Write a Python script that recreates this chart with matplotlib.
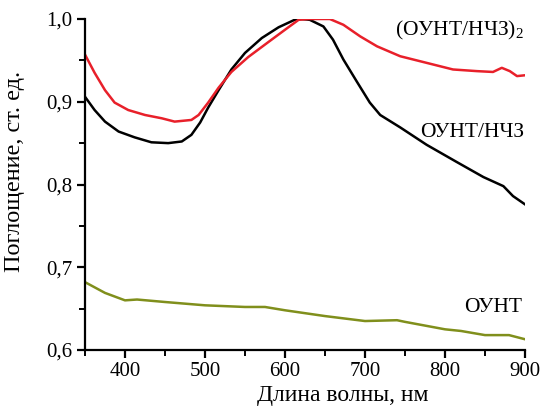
import matplotlib
matplotlib.use("Agg")
import matplotlib.pyplot as plt
from matplotlib.ticker import MultipleLocator, FuncFormatter

plt.rcParams['font.family'] = ['Liberation Serif', 'DejaVu Serif']
plt.rcParams['mathtext.fontset'] = 'custom'
plt.rcParams['mathtext.rm'] = 'Liberation Serif'
plt.rcParams['mathtext.it'] = 'Liberation Serif:italic'
plt.rcParams['mathtext.bf'] = 'Liberation Serif:bold'

# wavelengths (nm) and absorbance
wl_black = [350, 362, 375, 392, 412, 433, 454, 471, 483, 494, 504, 517, 533, 550, 571, 592, 612, 620,
            631, 648, 660, 673, 690, 706, 719, 744, 777, 815, 848, 873, 885, 900]
ab_black = [0.906, 0.890, 0.876, 0.864, 0.857, 0.851, 0.850, 0.852, 0.860, 0.875, 0.893, 0.914, 0.939, 0.959, 0.977, 0.990, 0.999, 1.000,
            0.999, 0.991, 0.975, 0.951, 0.924, 0.899, 0.884, 0.869, 0.848, 0.827, 0.809, 0.798, 0.786, 0.776]

wl_red = [350, 362, 375, 387, 404, 425, 446, 462, 483, 492, 504, 517, 533, 554, 579, 600, 617, 630, 656,
          673, 694, 715, 744, 777, 810, 840, 860, 871, 881, 890, 900]
ab_red = [0.957, 0.935, 0.914, 0.899, 0.890, 0.884, 0.880, 0.876, 0.878, 0.884, 0.899, 0.917, 0.936, 0.954, 0.972, 0.987, 0.999, 1.000, 1.000,
          0.993, 0.979, 0.967, 0.955, 0.947, 0.939, 0.937, 0.936, 0.941, 0.937, 0.931, 0.932]

wl_olive = [350, 375, 400, 415, 450, 500, 550, 575, 600, 650, 700, 740, 750, 800, 820, 850, 880, 900]
ab_olive = [0.682, 0.669, 0.660, 0.661, 0.658, 0.654, 0.652, 0.652, 0.648, 0.641, 0.635, 0.636, 0.634, 0.625, 0.623, 0.618, 0.618, 0.613]

xticks = [400, 500, 600, 700, 800, 900]
yticks = [0.6, 0.7, 0.8, 0.9, 1.0]

fig = plt.figure(figsize=(5.44, 4.08), dpi=100)
ax = fig.add_axes([85/544, 1-350/408, 440/544, 331/408])

ax.plot(wl_olive, ab_olive, color='#808f1c', lw=1.8)
ax.plot(wl_black, ab_black, color='black', lw=1.8)
ax.plot(wl_red, ab_red, color='#e8202a', lw=1.8)

ax.set_xlim(350, 900)
ax.set_ylim(0.6, 1.0)
ax.set_xticks(xticks)
ax.set_yticks(yticks)
ax.xaxis.set_minor_locator(MultipleLocator(50))
ax.yaxis.set_minor_locator(MultipleLocator(0.05))
ax.yaxis.set_major_formatter(FuncFormatter(lambda v, p: f"{v:.1f}".replace('.', ',')))
for s in ['top', 'right']:
    ax.spines[s].set_visible(False)
for s in ['left', 'bottom']:
    ax.spines[s].set_linewidth(1.6)
ax.tick_params(which='major', direction='out', length=6, width=1.6, labelsize=15, pad=3)
ax.tick_params(which='minor', direction='out', length=4, width=1.4)

ax.text(899, 0.986, r'(ОУНТ/НЧЗ)$_2$', ha='right', va='center', fontsize=15.5)
ax.text(899, 0.863, 'ОУНТ/НЧЗ', ha='right', va='center', fontsize=15.5)
ax.text(897, 0.651, 'ОУНТ', ha='right', va='center', fontsize=15.5)

fig.text(343/544, 1-396/408, 'Длина волны, нм', ha='center', va='center', fontsize=17)
fig.text(15/544, 1-171/408, 'Поглощение, ст. ед.', ha='center', va='center', fontsize=17.5, rotation=90)

fig.savefig('out.png', dpi=100)
